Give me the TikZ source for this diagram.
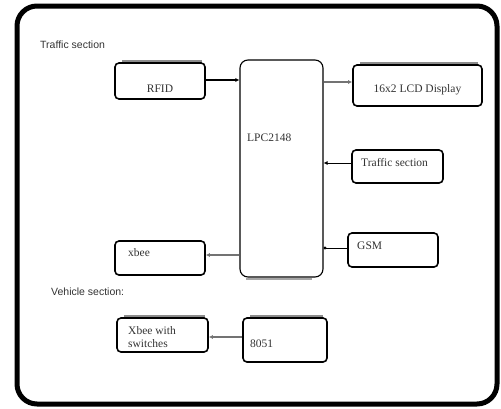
\documentclass[tikz,border=0pt]{standalone}
\usepackage{fontspec}
\setmainfont{Liberation Serif}
\setsansfont{Liberation Sans}
\usetikzlibrary{arrows.meta}
\tikzset{
  frame/.style={draw=black, line width=5pt, rounded corners=20pt},
  blk/.style={draw=black, line width=1.6pt, rounded corners=4pt, fill=white, inner sep=0pt},
  cpu/.style={draw=black, line width=1.1pt, rounded corners=8pt, fill=white, inner sep=0pt},
  shad/.style={draw=black!45, line width=3pt},
  txt/.style={font=\fontsize{11.5}{12.5}\selectfont, text=black!80, inner sep=0pt, align=left},
  stxt/.style={font=\sffamily\fontsize{10.5}{12}\selectfont, text=black!80, inner sep=0pt},
  tip/.style={-{Latex[length=4pt,width=4pt]}},
  arrK/.style={tip, draw=black, line width=2pt},
  arrG/.style={tip, draw=black!55, line width=2.6pt},
  arrT/.style={tip, draw=black, line width=0.8pt},
  dotT/.style={{Circle[length=3pt]}-, draw=black, line width=0.8pt}
}
\begin{document}
\begin{tikzpicture}[x=1pt,y=-1pt]
\useasboundingbox (0,0) rectangle (501,408);
\fill[white] (0,0) rectangle (501,408);
\draw[frame] (17,6) rectangle (497,404);

\node[stxt, anchor=west] (tsec) at (40,45) {Traffic section};
\node[stxt, anchor=west] (vsec) at (51,292) {Vehicle section:};

% shadows
\draw[shad] (122,61) -- (202,61);
\draw[shad] (360,63) -- (478,63);
\draw[shad] (124,316) -- (205,316);
\draw[shad] (250,316) -- (323,316);
\draw[draw=black!35, line width=2pt] (246,279) -- (312,279);

\node[blk, minimum width=90pt, minimum height=36pt] (rfid) at (160,81) {};
\node[cpu, minimum width=83pt, minimum height=217pt] (lpc) at (281.5,168.5) {};
\node[blk, minimum width=129pt, minimum height=41pt] (lcd) at (417.5,85.5) {};
\node[blk, minimum width=91pt, minimum height=33pt] (traf) at (397.5,166.5) {};
\node[blk, minimum width=90pt, minimum height=34pt] (gsm) at (393,250) {};
\node[blk, minimum width=90pt, minimum height=34pt] (xbee) at (160,258) {};
\node[blk, minimum width=91pt, minimum height=34pt] (xsw) at (162.5,335) {};
\node[blk, minimum width=84pt, minimum height=44pt] (mcu) at (285,340) {};

\node[txt] (trfid) at ([yshift=-8]rfid.center) {RFID};
\node[txt, anchor=west] (tlpc) at (247,138) {LPC2148};
\node[txt] (tlcd) at ([yshift=-4]lcd.center) {16x2 LCD Display};
\node[txt, anchor=west] (ttraf) at (361,163) {Traffic section};
\node[txt, anchor=west] (tgsm) at (357,246) {GSM};
\node[txt, anchor=west] (txbee) at (128,253) {xbee};
\node[txt, anchor=west] (txsw) at (128,337) {Xbee with\\switches};
\node[txt, anchor=west] (tmcu) at (250,344) {8051};

\draw[arrK] ([yshift=1]rfid.east) -- ([yshift=1]rfid.east -| lpc.west);
\draw[arrG] ([yshift=3.5]lcd.west -| lpc.east) -- ([yshift=3.5]lcd.west);
\draw[arrT] ([yshift=3.5]traf.west) -- ([yshift=3.5]traf.west -| lpc.east);
\draw[dotT] ([yshift=2]gsm.west -| lpc.east) -- ([yshift=2]gsm.west);
\draw[arrG] ([yshift=3]xbee.east -| lpc.west) -- ([yshift=3]xbee.east);
\draw[arrG] ([yshift=3]mcu.west) -- ([yshift=3]mcu.west -| xsw.east);
\end{tikzpicture}
\end{document}
